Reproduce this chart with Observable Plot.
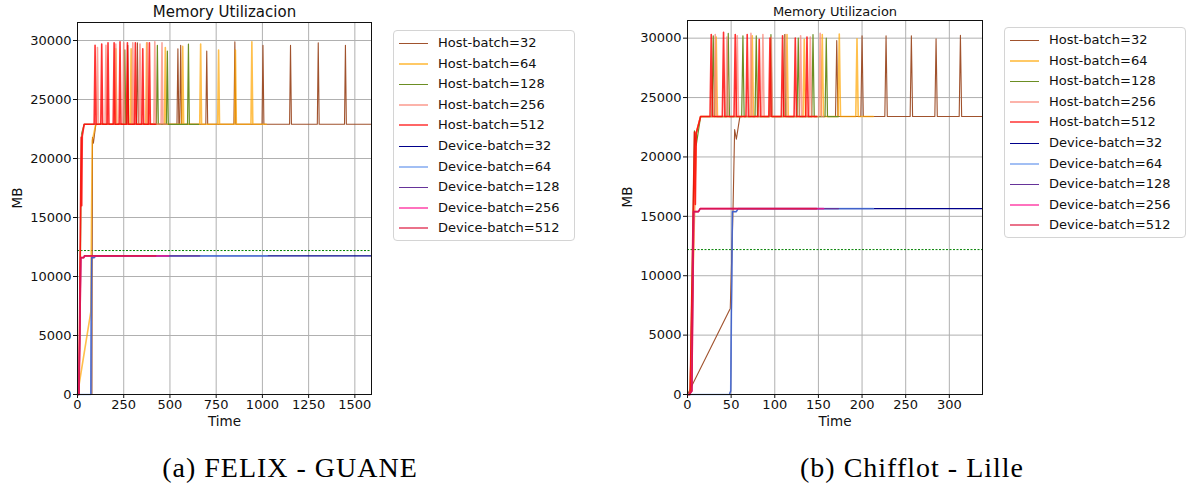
<!DOCTYPE html>
<html><head><meta charset="utf-8">
<script src="https://cdn.jsdelivr.net/npm/d3@7"></script>
<script src="https://cdn.jsdelivr.net/npm/@observablehq/plot@0.6"></script>
<style>
body{margin:0;background:#fff;}
#root{position:relative;width:1191px;height:486px;overflow:hidden;font-family:"DejaVu Sans",sans-serif;background:#fff;}
.panel{position:absolute;top:0;}
.legend{position:absolute;border:1px solid #d4d4d4;border-radius:4px;background:#fff;box-sizing:border-box;}
.item{position:absolute;left:0;height:20px;line-height:20px;font-size:13px;color:#111;white-space:nowrap;}
.item span.txt{position:absolute;left:44px;top:0;}
.item span.sw{position:absolute;left:5px;width:29px;}
.caption{position:absolute;font-family:"Liberation Serif",serif;font-size:28px;letter-spacing:1px;color:#000;transform:translate(-50%,-50%);white-space:nowrap;}
</style></head><body><div id="root"></div>
<script>
// ---- series (shared) ----
const seriesNames = ["Host-batch=32","Host-batch=64","Host-batch=128","Host-batch=256","Host-batch=512",
  "Device-batch=32","Device-batch=64","Device-batch=128","Device-batch=256","Device-batch=512"];
const seriesColors = ["#a0522d","#ffa500","#6b8e23","#fa8072","#ff0000",
  "#00008b","#6495ed","#663399","#ff1493","#dc143c"];
const seriesWidths = [1.1,1.6,1.2,1.6,1.6,1.1,1.6,1.2,1.6,1.6];
const seriesAlphas = [1,0.7,1,0.7,0.8,1,0.65,1,0.75,0.75];
const yTicks = [0,5000,10000,15000,20000,25000,30000];
const aXTicks = [0,250,500,750,1000,1250,1500];
const bXTicks = [0,50,100,150,200,250,300];

// ---- panel (a) FELIX - GUANE ----
const aHostBase = 22900, aLimit = 12200;
const aHost32Start = [[0,0],[78,0],[81,21800],[86,21300],[99,22900]];
const aHost32SpikeT = [272,324,543,558,699,851,1003,1152,1302,1449];
const aHost32SpikeV = [29600,29800,29300,29600,29100,29900,29600,29600,29800,29600];
const aHost32End = 1590;
const aHost64Start = [[0,0],[72,7000],[76,15300],[80,21500],[99,22900]];
const aHost64SpikeT = [207,290,374,475,569,666,763,854,943];
const aHost64SpikeV = [29300,29300,29800,29400,29500,29700,29200,29200,29900];
const aHost64End = 1021;
const aHost128Start = [[0,0],[8,0],[18,15000],[22,22100],[36,22900]];
const aHost128SpikeT = [256,432,486,600];
const aHost128SpikeV = [29200,29600,29100,29700];
const aHost128End = 655;
const aHost256Start = [[0,0],[8,0],[18,15500],[22,21800],[36,22900]];
const aHost256SpikeT = [108,154,207,250,299,338,378,418,457];
const aHost256SpikeV = [29400,29600,29700,29800,29800,29700,29800,29900,29800];
const aHost256End = 482;
const aHost512Start = [[0,0],[8,0],[16,15500],[20,21800],[23,16000],[26,21900],[36,22900]];
const aHost512SpikeT = [95,131,165,198,230,270,313,353,389];
const aHost512SpikeV = [29600,29700,29800,29800,29900,29800,29800,29300,29800];
const aHost512End = 423;
const aDevice32 = [[0,0],[72,0],[76,11600],[90,11600],[99,11750],[1590,11750]];
const aDevice64 = [[0,0],[72,0],[76,11600],[90,11600],[99,11750],[1026,11750]];
const aDevice128 = [[0,0],[8,0],[18,11600],[34,11600],[38,11750],[661,11750]];
const aDevice256 = [[0,0],[8,0],[18,11600],[34,11600],[38,11750],[493,11750]];
const aDevice512 = [[0,0],[8,0],[18,11600],[34,11600],[38,11750],[423,11750]];

// ---- panel (b) Chifflot - Lille ----
const bHostBase = 23400, bLimit = 12200;
const bHost32Start = [[0,0],[49,7250],[52,15000],[54,22300],[56,21500],[60,23400]];
const bHost32SpikeT = [171,200,227.5,256.5,284.8,312.7];
const bHost32SpikeV = [29800,30200,30200,30200,29950,30250];
const bHost32End = 338;
const bHost64Start = [[0,0],[3,0],[8,15000],[10,22000],[15,23400]];
const bHost64SpikeT = [32.9,74.2,114,133.8,154.4,173.9,194.2];
const bHost64SpikeV = [30100,30200,30300,29900,30300,30350,29950];
const bHost64End = 213;
const bHost128Start = [[0,0],[3,0],[8,22200],[10,21000],[15,23400]];
const bHost128SpikeT = [29.5,46.7,63.5,78.8,95.6,111.2,126.9,143.8,159];
const bHost128SpikeV = [30200,30400,30200,30200,30300,30300,30000,30300,30000];
const bHost128End = 173;
const bHost256Start = [[0,0],[3,0],[8,16000],[10,22000],[15,23400]];
const bHost256SpikeT = [31.8,45.2,57,72.7,86.4,96,112,129.6,140.7,152];
const bHost256SpikeV = [30300,30100,30200,30400,30300,30100,30300,30200,30100,30400];
const bHost256End = 156;
const bHost512Start = [[0,0],[3,0],[8,22100],[9,16000],[10,22000],[15,23400]];
const bHost512SpikeT = [27.2,41.3,54.7,68.4,82.2,94.5,108.9,123.5,136.9];
const bHost512SpikeV = [30300,30500,30300,30300,29900,30000,30200,30000,30100];
const bHost512End = 148;
const bDevice32 = [[0,0],[48,0],[49.5,300],[51.5,15400],[56,15400],[58,15650],[338,15650]];
const bDevice64 = [[0,0],[48,0],[49.5,300],[51.5,15400],[56,15400],[58,15650],[213,15650]];
const bDevice128 = [[0,0],[2,0],[5,300],[7,15400],[12.5,15400],[14.6,15650],[173,15650]];
const bDevice256 = [[0,0],[2,0],[5,300],[7,15400],[12.5,15400],[14.6,15650],[156,15650]];
const bDevice512 = [[0,0],[2,0],[5,300],[7,15400],[12.5,15400],[14.6,15650],[148,15650]];

// ---- build rows from the arrays above ----
function hostRows(name, start, spikeT, spikeV, base, end, hw) {
  const rows = start.map(([t, v]) => ({name, t, v}));
  spikeT.forEach((t, i) => {
    rows.push({name, t: t - hw, v: base}, {name, t, v: spikeV[i]}, {name, t: t + hw, v: base});
  });
  rows.push({name, t: end, v: base});
  return rows;
}
function devRows(name, path) { return path.map(([t, v]) => ({name, t, v})); }

const aRows = [
  hostRows(seriesNames[0], aHost32Start, aHost32SpikeT, aHost32SpikeV, aHostBase, aHost32End, 5),
  hostRows(seriesNames[1], aHost64Start, aHost64SpikeT, aHost64SpikeV, aHostBase, aHost64End, 5),
  hostRows(seriesNames[2], aHost128Start, aHost128SpikeT, aHost128SpikeV, aHostBase, aHost128End, 5),
  hostRows(seriesNames[3], aHost256Start, aHost256SpikeT, aHost256SpikeV, aHostBase, aHost256End, 5),
  hostRows(seriesNames[4], aHost512Start, aHost512SpikeT, aHost512SpikeV, aHostBase, aHost512End, 5),
  devRows(seriesNames[5], aDevice32), devRows(seriesNames[6], aDevice64), devRows(seriesNames[7], aDevice128),
  devRows(seriesNames[8], aDevice256), devRows(seriesNames[9], aDevice512)
];
const bRows = [
  hostRows(seriesNames[0], bHost32Start, bHost32SpikeT, bHost32SpikeV, bHostBase, bHost32End, 1.4),
  hostRows(seriesNames[1], bHost64Start, bHost64SpikeT, bHost64SpikeV, bHostBase, bHost64End, 1.4),
  hostRows(seriesNames[2], bHost128Start, bHost128SpikeT, bHost128SpikeV, bHostBase, bHost128End, 1.4),
  hostRows(seriesNames[3], bHost256Start, bHost256SpikeT, bHost256SpikeV, bHostBase, bHost256End, 1.4),
  hostRows(seriesNames[4], bHost512Start, bHost512SpikeT, bHost512SpikeV, bHostBase, bHost512End, 1.4),
  devRows(seriesNames[5], bDevice32), devRows(seriesNames[6], bDevice64), devRows(seriesNames[7], bDevice128),
  devRows(seriesNames[8], bDevice256), devRows(seriesNames[9], bDevice512)
];

function makePanel(o) {
  return Plot.plot({
    width: o.width, height: 435,
    marginLeft: o.ml, marginRight: o.mr, marginTop: o.mt, marginBottom: 41,
    x: {domain: o.xDomain}, y: {domain: o.yDomain},
    color: {domain: seriesNames, range: seriesColors},
    style: {fontFamily: "DejaVu Sans", fontSize: "13px", color: "#111", background: "transparent", overflow: "visible"},
    marks: [
      Plot.gridX(o.xTicks, {stroke: "#b0b0b0", strokeOpacity: 1, strokeWidth: 1}),
      Plot.gridY(yTicks, {stroke: "#b0b0b0", strokeOpacity: 1, strokeWidth: 1}),
      Plot.ruleY([o.limit], {stroke: "green", strokeDasharray: "2,1.5", strokeWidth: 1}),
      ...o.rows.map((rows, i) => Plot.line(rows, {x: "t", y: "v", stroke: "name", strokeWidth: seriesWidths[i], strokeOpacity: seriesAlphas[i]})),
      Plot.frame({stroke: "#111", strokeWidth: 1}),
      Plot.axisX(o.xTicks, {tickSize: 4, tickPadding: 1, label: null, fontSize: 13, tickFormat: d => String(d)}),
      Plot.axisY(yTicks, {tickSize: 4, tickPadding: 2, label: null, fontSize: 13, tickFormat: d => String(d)}),
      Plot.text([o.title], {text: d => d, frameAnchor: "top", lineAnchor: "middle", dy: o.titleDy, fontSize: o.titleSize, fill: "#111"}),
      Plot.text(["Time"], {text: d => d, frameAnchor: "bottom", lineAnchor: "middle", dy: 27, fontSize: 13.5, fill: "#111"}),
      Plot.text(["MB"], {text: d => d, frameAnchor: "left", lineAnchor: "middle", dx: o.mbDx, rotate: -90, fontSize: 13.5, fill: "#111"})
    ]
  });
}

const root = document.getElementById("root");
function place(el, left) { el.classList.add("panel"); el.style.left = left + "px"; root.appendChild(el); }

place(makePanel({rows: aRows, width: 380, ml: 77, mr: 9, mt: 22, xDomain: [0, 1590], yDomain: [0, 31526],
  xTicks: aXTicks, limit: aLimit, title: "Memory Utilizacion", titleSize: 15, titleDy: -10, mbDx: -60}), 0);
place(makePanel({rows: bRows, width: 380, ml: 77, mr: 8, mt: 20, xDomain: [0, 338], yDomain: [0, 31487],
  xTicks: bXTicks, limit: bLimit, title: "Memory Utilizacion", titleSize: 13, titleDy: -9, mbDx: -60}), 610);

function legend(left, top) {
  const box = document.createElement("div");
  box.className = "legend";
  Object.assign(box.style, {left: left + "px", top: top + "px", width: "182px", height: "211px"});
  seriesNames.forEach((n, i) => {
    const it = document.createElement("div");
    it.className = "item";
    it.style.top = Math.round(2 + i * 20.6) + "px";
    const sw = document.createElement("span");
    sw.className = "sw";
    const h = seriesWidths[i] > 1.4 ? 2 : 1;
    sw.style.height = h + "px";
    sw.style.top = (h === 2 ? 9 : 10) + "px";
    sw.style.background = seriesColors[i];
    sw.style.opacity = seriesAlphas[i] < 1 ? 0.6 : 1;
    const tx = document.createElement("span");
    tx.className = "txt";
    tx.textContent = n;
    it.appendChild(sw); it.appendChild(tx);
    box.appendChild(it);
  });
  root.appendChild(box);
}
legend(393, 30);
legend(1004, 27);

function caption(text, x, y) {
  const c = document.createElement("div");
  c.className = "caption";
  c.textContent = text;
  c.style.left = x + "px"; c.style.top = y + "px";
  root.appendChild(c);
}
caption("(a) FELIX - GUANE", 290, 468);
caption("(b) Chifflot - Lille", 912, 468);
</script>
</body></html>
